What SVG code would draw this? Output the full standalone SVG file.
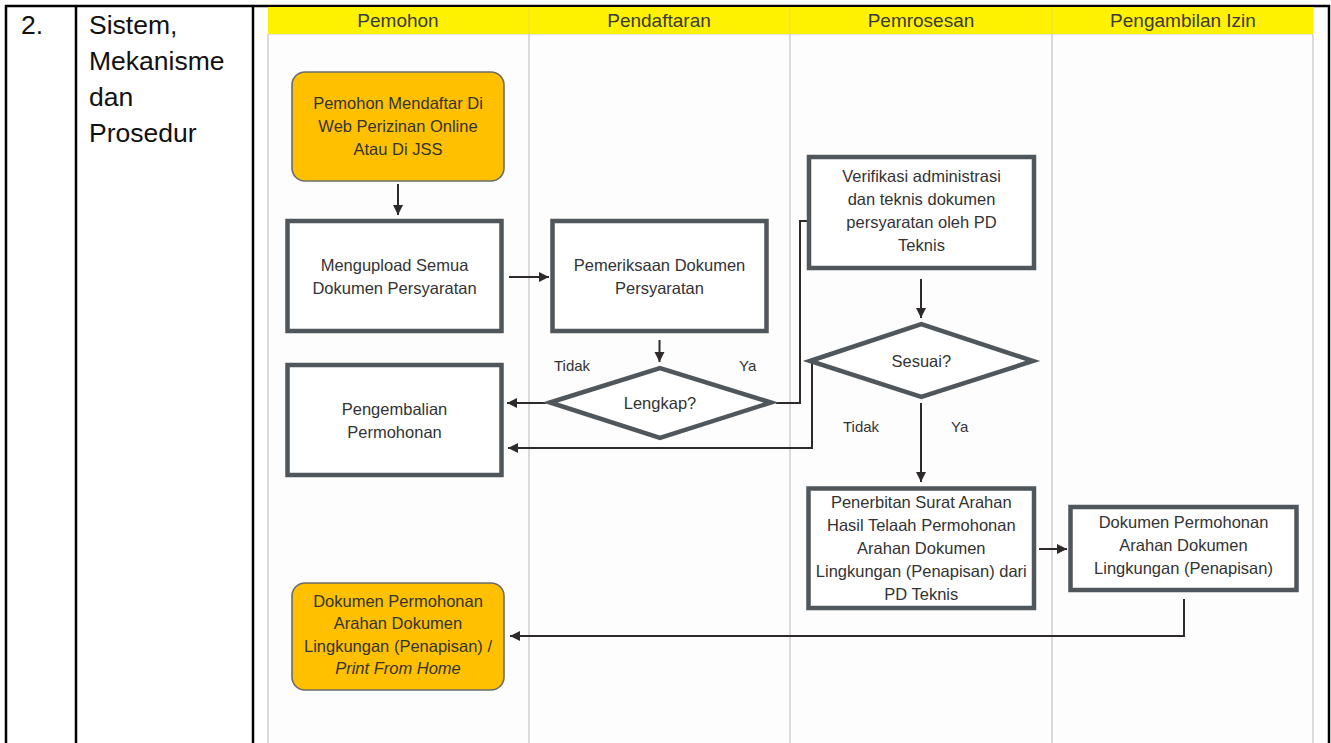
<svg xmlns="http://www.w3.org/2000/svg" width="1331" height="743" viewBox="0 0 1331 743">
<style>
.tb{stroke:#000;stroke-width:2.5;fill:none}
.big{font-family:"Liberation Sans",Arial,sans-serif;font-size:26.5px;fill:#111}
.hd{font-family:"Liberation Sans",Arial,sans-serif;font-size:19px;fill:#3a3a3a;text-anchor:middle}
.lane{stroke:#cfcfcf;stroke-width:1.5}
.box{fill:#fff;stroke:#4f565c;stroke-width:4.5}
.term{fill:#FFC000;stroke:#6b6b6b;stroke-width:1.6}
.t{font-family:"Liberation Sans",Arial,sans-serif;font-size:16.5px;fill:#333;text-anchor:middle}
.lb{font-family:"Liberation Sans",Arial,sans-serif;font-size:15px;fill:#333}
.c{fill:none;stroke:#2e2a2a;stroke-width:2;marker-end:url(#ah)}
</style>
<defs>
<marker id="ah" markerUnits="userSpaceOnUse" markerWidth="11" markerHeight="11" refX="10" refY="5" orient="auto">
<path d="M0,0 L10,5 L0,10 z" fill="#2e2a2a"/>
</marker>
</defs>
<rect x="0" y="0" width="1331" height="743" fill="#fff"/>
<g id="table">
<line class="tb" x1="5" y1="6" x2="1330" y2="6"/>
<line class="tb" x1="6" y1="5" x2="6" y2="743"/>
<line class="tb" x1="76" y1="5" x2="76" y2="743"/>
<line class="tb" x1="253" y1="5" x2="253" y2="743"/>
<line class="tb" x1="1329" y1="5" x2="1329" y2="743"/>
<text class="big" x="21" y="34">2.</text>
<text class="big" x="89" y="34">Sistem,</text>
<text class="big" x="89" y="70">Mekanisme</text>
<text class="big" x="89" y="106">dan</text>
<text class="big" x="89" y="142">Prosedur</text>
</g>
<g id="lanes">
<rect x="268" y="7" width="1045" height="736" fill="#fdfdfd"/>
<rect x="268" y="7" width="1045" height="27" fill="#FFF200"/>
<line x1="268" y1="34.5" x2="1313" y2="34.5" stroke="#e2e2e2" stroke-width="1"/>
<line class="lane" x1="268" y1="34" x2="268" y2="743"/>
<line class="lane" x1="529" y1="34" x2="529" y2="743"/>
<line class="lane" x1="790" y1="34" x2="790" y2="743"/>
<line class="lane" x1="1052" y1="34" x2="1052" y2="743"/>
<line class="lane" x1="1313" y1="34" x2="1313" y2="743"/>
<line x1="529" y1="7" x2="529" y2="34" stroke="#e8dc3a" stroke-width="1"/>
<line x1="790" y1="7" x2="790" y2="34" stroke="#e8dc3a" stroke-width="1"/>
<line x1="1052" y1="7" x2="1052" y2="34" stroke="#e8dc3a" stroke-width="1"/>
<text class="hd" x="398" y="27">Pemohon</text>
<text class="hd" x="659" y="27">Pendaftaran</text>
<text class="hd" x="921" y="27">Pemrosesan</text>
<text class="hd" x="1183" y="27">Pengambilan Izin</text>
</g>
<g id="connectors">
<path class="c" d="M398 184 V215"/>
<path class="c" d="M509 277 H549"/>
<path class="c" d="M659.5 340 V362"/>
<path class="c" d="M546 403 H507"/>
<path class="c" d="M776 403 H800 V221 H821"/>
<path class="c" d="M921 279 V318"/>
<path class="c" d="M836 361 H812 V448 H508"/>
<path class="c" d="M921 403 V482"/>
<path class="c" d="M1039 549 H1067"/>
<path class="c" d="M1184 599 V636 H510"/>
<text class="lb" x="554" y="371">Tidak</text>
<text class="lb" x="739" y="371">Ya</text>
<text class="lb" x="843" y="432">Tidak</text>
<text class="lb" x="951" y="432">Ya</text>
</g>
<g id="n1">
<rect class="term" x="292" y="72" width="212" height="109" rx="13"/>
<text class="t" x="398" y="109">Pemohon Mendaftar Di</text>
<text class="t" x="398" y="132">Web Perizinan Online</text>
<text class="t" x="398" y="155">Atau Di JSS</text>
</g>
<g id="n2">
<rect class="box" x="287.5" y="221" width="214" height="110"/>
<text class="t" x="394.5" y="271">Mengupload Semua</text>
<text class="t" x="394.5" y="294">Dokumen Persyaratan</text>
</g>
<g id="n3">
<rect class="box" x="552.5" y="221" width="214" height="110"/>
<text class="t" x="659.5" y="271">Pemeriksaan Dokumen</text>
<text class="t" x="659.5" y="294">Persyaratan</text>
</g>
<g id="d1">
<polygon class="box" points="550,402.5 660,368 771,402.5 660,438"/>
<text class="t" x="660" y="409">Lengkap?</text>
</g>
<g id="n4">
<rect class="box" x="287.5" y="365" width="214" height="110"/>
<text class="t" x="394.5" y="415">Pengembalian</text>
<text class="t" x="394.5" y="438">Permohonan</text>
</g>
<g id="n5">
<rect class="box" x="809" y="157" width="225" height="111"/>
<text class="t" x="921.5" y="182">Verifikasi administrasi</text>
<text class="t" x="921.5" y="205">dan teknis dokumen</text>
<text class="t" x="921.5" y="228">persyaratan oleh PD</text>
<text class="t" x="921.5" y="251">Teknis</text>
</g>
<g id="d2">
<polygon class="box" points="810,361 921.3,324 1033,361 921.3,397"/>
<text class="t" x="921.3" y="367">Sesuai?</text>
</g>
<g id="n6">
<rect class="box" x="808.5" y="488.5" width="225.5" height="119.5"/>
<text class="t" x="921.3" y="508">Penerbitan Surat Arahan</text>
<text class="t" x="921.3" y="531">Hasil Telaah Permohonan</text>
<text class="t" x="921.3" y="554">Arahan Dokumen</text>
<text class="t" x="921.3" y="577">Lingkungan (Penapisan) dari</text>
<text class="t" x="921.3" y="600">PD Teknis</text>
</g>
<g id="n7">
<rect class="box" x="1070.5" y="507" width="226" height="83"/>
<text class="t" x="1183.5" y="528">Dokumen Permohonan</text>
<text class="t" x="1183.5" y="551">Arahan Dokumen</text>
<text class="t" x="1183.5" y="574">Lingkungan (Penapisan)</text>
</g>
<g id="n8">
<rect class="term" x="292" y="583" width="212" height="107" rx="13"/>
<text class="t" x="398" y="607">Dokumen Permohonan</text>
<text class="t" x="398" y="629">Arahan Dokumen</text>
<text class="t" x="398" y="652">Lingkungan (Penapisan) /</text>
<text class="t" x="398" y="674" font-style="italic">Print From Home</text>
</g>
</svg>
